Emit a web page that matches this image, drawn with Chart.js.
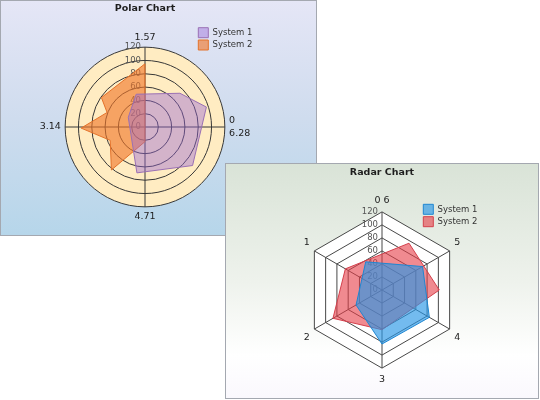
<!DOCTYPE html>
<html lang="en">
<head>
<meta charset="UTF-8">
<title>Polar and Radar Chart</title>
<script src="https://cdn.jsdelivr.net/npm/chart.js"></script>
<style>
    body { margin: 0; background: #fff; font-family: "DejaVu Sans", sans-serif; }
    .panel { position: absolute; box-sizing: border-box; border: 1px solid #a4a8b0; overflow: hidden; }
    #polarPanel {
        left: 0; top: 0; width: 317px; height: 236px;
        background: linear-gradient(to bottom, #e5e6f6 0%, #cfdcee 50%, #b6d6ea 100%);
    }
    #radarPanel {
        left: 225px; top: 163px; width: 314px; height: 236px; z-index: 2;
        background: linear-gradient(to bottom, #d9e3d7 0%, #eef2ec 50%, #ffffff 82%, #faf8fd 100%);
    }
    canvas { position: absolute; left: 0; top: 0; }
</style>
</head>
<body>
<div class="panel" id="polarPanel"><canvas id="polarChart" width="284" height="234"></canvas></div>
<div class="panel" id="radarPanel"><canvas id="radarChart" width="312" height="234"></canvas></div>

<script>
// ---- polar chart data (angle in radians, radius) ----
const polarAxisLabels = ['0', '1.57', '3.14', '4.71', '6.28'];
const sys1Theta = [0.31, 0.77, 1.83, 2.62, 4.54, 5.60];
const sys1Radius = [97, 73, 51, 29, 70, 92];
const sys2Theta = [0, 1.57, 2.55, 2.77, 3.16, 3.51, 4.05, 4.71];
const sys2Radius = [0, 95, 79, 61, 96, 56, 82, 22];

// ---- radar chart data (position 0..6 around the hexagon, value) ----
const radarCategories = ['0', '1', '2', '3', '4', '5', '6'];
const radarSys1X = [0.5, 2, 3, 4, 5];
const radarSys1 = [50, 46, 83, 84, 72];
const radarSys2X = [1, 2, 3, 4.5, 5.5];
const radarSys2 = [65, 87, 61, 88, 83];

const seriesNames = ['System 1', 'System 2'];
const valueMax = 120;
const valueStep = 20;

const FONT = '"DejaVu Sans", sans-serif';

// polar: 360 hidden slots, slot 0 at the top, going clockwise
function polarSeries(thetas, values) {
    const out = new Array(360).fill(null);
    thetas.forEach((t, i) => {
        const deg = t * 180 / Math.PI;
        const idx = ((Math.round(90 - deg) % 360) + 360) % 360;
        out[idx] = values[i];
    });
    return out;
}

// radar: 12 hidden half-step slots, positions run counter clockwise
function radarSeries(xs, values) {
    const out = new Array(12).fill(null);
    xs.forEach((x, i) => {
        const idx = ((12 - Math.round(x * 2)) % 12 + 12) % 12;
        out[idx] = values[i];
    });
    return out;
}

// tick text sits left of the axis line
function tickLabel(v) {
    const s = String(Math.round(v));
    return s + ' '.repeat(2 * s.length + 3);
}

function frameScale(labels, circular, bg, lineColor, labelPad) {
    return {
        axis: 'r',
        labels: labels,
        min: -1e-9,
        max: valueMax,
        startAngle: 0,
        backgroundColor: bg,
        grid: { circular: circular, color: lineColor, lineWidth: 1 },
        angleLines: { color: lineColor, lineWidth: 1 },
        ticks: {
            stepSize: valueStep,
            showLabelBackdrop: false,
            backdropPadding: 0,
            color: '#555',
            font: { family: FONT, size: 8.5 },
            callback: tickLabel
        },
        pointLabels: {
            padding: labelPad,
            color: '#222',
            font: (ctx) => ({ family: FONT, size: 9.5, lineHeight: (circular && ctx.index === 1) ? 1.3 : 1.2 })
        }
    };
}

function dataScale(count, circular) {
    return {
        axis: 'r',
        display: false,
        labels: Array.from({ length: count }, (_, i) => String(i)),
        min: 0,
        max: valueMax,
        startAngle: 0,
        grid: { circular: circular }
    };
}

// hidden data scale shares geometry with the visible frame, legend sits inside the plot
const syncPlugin = {
    id: 'sync',
    afterLayout(chart, args, opts) {
        const r = chart.scales.r, r2 = chart.scales.r2;
        r2.xCenter = r.xCenter;
        r2.yCenter = r.yCenter;
        r2.drawingArea = r.drawingArea;
        const lg = chart.legend;
        lg.left = opts.x; lg.right = opts.x + 100;
        lg.top = opts.y; lg.bottom = opts.y + 40;
    }
};

function makeOptions(titleText, titlePad, pad, legendPos, scales, legendPad) {
    return {
        responsive: false,
        animation: false,
        events: [],
        layout: { padding: pad },
        elements: { point: { radius: 0 }, line: { tension: 0 } },
        scales: scales,
        plugins: {
            title: {
                display: true,
                text: titleText,
                color: '#1e1e1e',
                font: { family: FONT, size: 9.5, weight: 'bold' },
                padding: titlePad
            },
            legend: {
                position: 'chartArea',
                align: 'start',
                labels: {
                    boxWidth: 10, boxHeight: 10, padding: legendPad,
                    color: '#333',
                    font: { family: FONT, size: 8.5 }
                }
            },
            tooltip: { enabled: false },
            sync: legendPos
        }
    };
}

new Chart(document.getElementById('polarChart'), {
    type: 'radar',
    data: {
        datasets: [{
            label: seriesNames[0],
            data: polarSeries(sys1Theta, sys1Radius),
            rAxisID: 'r2',
            spanGaps: true,
            fill: true,
            backgroundColor: 'rgba(150, 100, 215, 0.42)',
            borderColor: '#9a70b4',
            borderWidth: 1
        }, {
            label: seriesNames[1],
            data: polarSeries(sys2Theta, sys2Radius),
            rAxisID: 'r2',
            spanGaps: true,
            fill: true,
            backgroundColor: 'rgba(240, 118, 40, 0.62)',
            borderColor: '#e4722a',
            borderWidth: 1
        }]
    },
    options: makeOptions('Polar Chart', { top: 1.6, bottom: 17.5 }, { top: 0, left: 4, right: 0, bottom: 11.6 },
        { x: 195, y: 24.4 },
        {
            r: frameScale([polarAxisLabels[1], [polarAxisLabels[0], polarAxisLabels[4]], polarAxisLabels[3], polarAxisLabels[2]],
                true, '#ffecc2', '#383838', 0),
            r2: dataScale(360, true)
        }, 2.3),
    plugins: [syncPlugin]
});

new Chart(document.getElementById('radarChart'), {
    type: 'radar',
    data: {
        datasets: [{
            label: seriesNames[0],
            data: radarSeries(radarSys1X, radarSys1),
            rAxisID: 'r2',
            spanGaps: true,
            fill: true,
            backgroundColor: 'rgba(40, 150, 230, 0.65)',
            borderColor: '#1f86d1',
            borderWidth: 1
        }, {
            label: seriesNames[1],
            data: radarSeries(radarSys2X, radarSys2),
            rAxisID: 'r2',
            spanGaps: true,
            fill: true,
            backgroundColor: 'rgba(230, 60, 70, 0.6)',
            borderColor: '#d4404c',
            borderWidth: 1
        }]
    },
    options: makeOptions('Radar Chart', { top: 3, bottom: 16.85 }, { top: 0, left: 0, right: 0, bottom: 12.25 },
        { x: 194.9, y: 37.9 },
        {
            r: frameScale([radarCategories[0] + ' ' + radarCategories[6], radarCategories[5], radarCategories[4],
                radarCategories[3], radarCategories[2], radarCategories[1]], false, '#ffffff', '#484848', 1),
            r2: dataScale(12, false)
        }, 2.4),
    plugins: [syncPlugin]
});
</script>
</body>
</html>
